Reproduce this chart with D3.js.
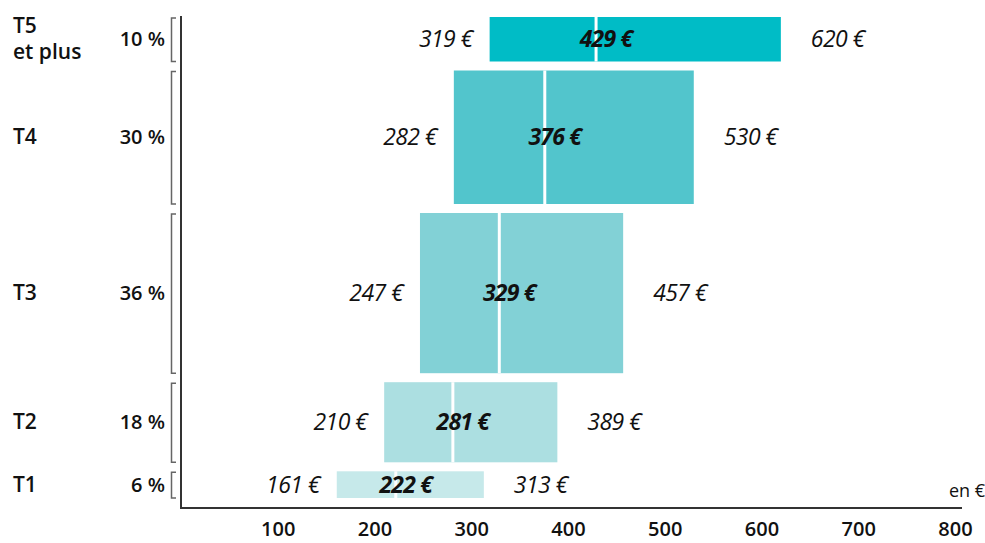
<!DOCTYPE html>
<html>
<head>
<meta charset="utf-8">
<script src="https://cdn.jsdelivr.net/npm/d3@7"></script>
<style>
  body { margin: 0; background: #fff; }
  text { font-family: "Open Sans", "Noto Sans", sans-serif; fill: #111; }
</style>
</head>
<body>
<div id="chart"></div>
<script>
// tranches, top to bottom
var tranches = ["T5|et plus", "T4", "T3", "T2", "T1"];
var shares   = [10, 30, 36, 18, 6];
var q1       = [319, 282, 247, 210, 161];
var medians  = [429, 376, 329, 281, 222];
var q3       = [620, 530, 457, 389, 313];
var colors   = ["#00bcc6", "#52c5cc", "#82d1d6", "#acdfe1", "#c6e9ea"];
var xTicks   = [100, 200, 300, 400, 500, 600, 700, 800];

function draw_chart() {
    var width = 985, height = 543;
    var gap = 9;

    var x = d3.scaleLinear()
        .domain([0, 800])
        .range([181, 955]);

    // bar heights proportional to share
    var h = d3.scaleLinear()
        .domain([0, 100])
        .range([0, 481 - gap * (shares.length - 1)]);

    var rows = [];
    var y0 = 17;
    tranches.forEach(function(t, i) {
        var hh = h(shares[i]);
        rows.push({label: t, share: shares[i], q1: q1[i], med: medians[i], q3: q3[i],
                   color: colors[i], y: y0, h: hh});
        y0 += hh + gap;
    });

    var svg = d3.select("#chart")
        .append("svg")
        .attr("width", width)
        .attr("height", height);

    var axisY = 508;

    // bars
    var g = svg.append("g");
    g.selectAll("rect.bar")
        .data(rows)
        .enter().append("rect")
        .attr("class", "bar")
        .attr("x", function(d) { return x(d.q1); })
        .attr("y", function(d) { return d.y; })
        .attr("width", function(d) { return x(d.q3) - x(d.q1); })
        .attr("height", function(d) { return d.h; })
        .attr("fill", function(d) { return d.color; });

    // median lines
    g.selectAll("line.med")
        .data(rows)
        .enter().append("line")
        .attr("x1", function(d) { return x(d.med); })
        .attr("x2", function(d) { return x(d.med); })
        .attr("y1", function(d) { return d.y; })
        .attr("y2", function(d) { return d.y + d.h; })
        .attr("stroke", "#fff")
        .attr("stroke-width", 3);

    // value labels
    g.selectAll("text.low")
        .data(rows)
        .enter().append("text")
        .attr("x", function(d) { return x(d.q1) - 17; })
        .attr("y", function(d) { return d.y + d.h / 2 + 8; })
        .attr("text-anchor", "end")
        .style("font-size", "23px")
        .style("font-style", "italic")
        .style("letter-spacing", "-0.6px")
        .text(function(d) { return d.q1 + " €"; });

    g.selectAll("text.med")
        .data(rows)
        .enter().append("text")
        .attr("x", function(d) { return x(d.med) + 10; })
        .attr("y", function(d) { return d.y + d.h / 2 + 8; })
        .attr("text-anchor", "middle")
        .style("font-size", "23px")
        .style("font-style", "italic")
        .style("font-weight", "bold")
        .style("letter-spacing", "-0.8px")
        .text(function(d) { return d.med + " €"; });

    g.selectAll("text.high")
        .data(rows)
        .enter().append("text")
        .attr("x", function(d) { return x(d.q3) + 30; })
        .attr("y", function(d) { return d.y + d.h / 2 + 8; })
        .attr("text-anchor", "start")
        .style("font-size", "23px")
        .style("font-style", "italic")
        .style("letter-spacing", "-0.6px")
        .text(function(d) { return d.q3 + " €"; });

    // brackets
    g.selectAll("path.br")
        .data(rows)
        .enter().append("path")
        .attr("d", function(d) {
            return "M176," + (d.y + 1) + "H171.5V" + (d.y + d.h) + "H176";
        })
        .attr("fill", "none")
        .attr("stroke", "#666")
        .attr("stroke-width", 1.5);

    // share labels
    g.selectAll("text.share")
        .data(rows)
        .enter().append("text")
        .attr("x", 165)
        .attr("y", function(d) { return d.y + d.h / 2 + 7; })
        .attr("text-anchor", "end")
        .style("font-size", "20px")
        .style("font-weight", "600")
        .text(function(d) { return d.share + " %"; });

    // tranche labels
    rows.forEach(function(d) {
        var parts = d.label.split("|");
        var t = g.append("text")
            .attr("x", 13)
            .style("font-size", "21px")
            .style("font-weight", "600");
        if (parts.length > 1) {
            t.attr("y", d.y + 16);
            parts.forEach(function(p, k) {
                t.append("tspan").attr("x", 13).attr("dy", k ? 26 : 0).text(p);
            });
        } else {
            t.attr("y", d.y + d.h / 2 + 7).text(d.label);
        }
    });

    // axes
    var xAxis = d3.axisBottom(x)
        .tickValues(xTicks)
        .tickSize(0)
        .tickPadding(14);

    var ax = svg.append("g")
        .attr("transform", "translate(0," + axisY + ")")
        .call(xAxis);
    ax.select(".domain").remove();
    ax.selectAll("text")
        .style("font-size", "20px")
        .style("font-weight", "600")
        .style("fill", "#111")
        .style("font-family", "'Open Sans', sans-serif");

    svg.append("line")
        .attr("x1", 180).attr("x2", 962)
        .attr("y1", axisY).attr("y2", axisY)
        .attr("stroke", "#333").attr("stroke-width", 2);

    svg.append("line")
        .attr("x1", 181).attr("x2", 181)
        .attr("y1", 16).attr("y2", axisY)
        .attr("stroke", "#333").attr("stroke-width", 2);

    svg.append("text")
        .attr("x", 985)
        .attr("y", 497)
        .attr("text-anchor", "end")
        .style("font-size", "18px")
        .text("en €");
}

draw_chart();
</script>
</body>
</html>
